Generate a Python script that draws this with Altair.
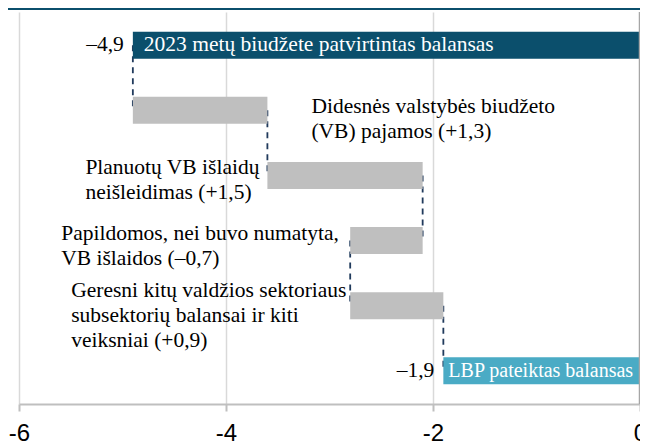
import altair as alt
import pandas as pd

# ---- data ----
row_idx = [0, 1, 2, 3, 4, 5]
kinds = ["total", "change", "change", "change", "change", "result"]
start_total = -4.9
changes = [1.3, 1.5, -0.7, 0.9]
final_total = -1.9
bar_texts = ["2023 metų biudžete patvirtintas balansas", "LBP pateiktas balansas"]
notes = [
    "Didesnės valstybės biudžeto\n(VB) pajamos (+1,3)",
    "Planuotų VB išlaidų\nneišleidimas (+1,5)",
    "Papildomos, nei buvo numatyta,\nVB išlaidos (–0,7)",
    "Geresni kitų valdžios sektoriaus\nsubsektorių balansai ir kiti\nveiksniai (+0,9)",
]
x_ticks = [-6, -4, -2, 0]

# ---- derived tables ----
levels = [start_total]
for c in changes:
    levels.append(round(levels[-1] + c, 2))
bx, bx2 = [start_total], [0]
for i, c in enumerate(changes):
    bx.append(levels[i])
    bx2.append(levels[i + 1])
bx.append(final_total)
bx2.append(0)
bars = pd.DataFrame({"row": row_idx, "x": bx, "x2": bx2, "kind": kinds})

conn = pd.DataFrame({
    "x": levels,
    "r_from": row_idx[:-1],
    "r_to": row_idx[1:],
})

def fmt(v):
    return ("–" if v < 0 else "") + f"{abs(v):.1f}".replace(".", ",")

W, H = 621, 392
yscale = alt.Scale(domain=[-0.51, 5.51], reverse=True, nice=False, zero=False, padding=0)
xscale = alt.Scale(domain=[-6, 0], nice=False, zero=False, padding=0)
color_scale = alt.Scale(domain=["total", "change", "result"],
                        range=["#0b4f6c", "#bfbfbf", "#4aabc5"])
x_axis = alt.Axis(
    values=x_ticks, title=None, grid=True, gridColor="#d9d9d9", gridWidth=1.5,
    domainColor="#bfbfbf", domainWidth=2, tickColor="#bfbfbf", tickWidth=2,
    tickSize=7, labelFont="Liberation Sans", labelFontSize=24, labelColor="#000000",
    labelPadding=10, labelFlush=False, labelOverlap=False,
    labelExpr="datum.value == 0 ? '0' : '-' + abs(datum.value)")


def X(field):
    return alt.X(field, scale=xscale, axis=x_axis)


def Y(field):
    return alt.Y(field, scale=yscale, axis=None)


bar_layer = alt.Chart(bars).mark_bar(size=27, orient="horizontal").encode(
    x=X("x:Q"),
    x2="x2:Q",
    y=Y("row:Q"),
    color=alt.Color("kind:N", scale=color_scale, legend=None),
)

conn_layer = alt.Chart(conn).mark_rule(
    color="#203a5c", strokeWidth=1.8, strokeDash=[6, 5]
).encode(
    x=X("x:Q"),
    y=Y("r_from:Q"),
    y2="r_to:Q",
)

zero_df = pd.DataFrame({"z": [x_ticks[-1]]})
zero_rule = alt.Chart(zero_df).mark_rule(color="#a6a6a6", strokeWidth=2.5).encode(
    x=X("z:Q")
)

top_band = alt.Chart(zero_df).mark_rule(color="#0b4f6c", strokeWidth=4).encode(
    x=alt.value(-12), x2=alt.value(630), y=alt.value(-4)
)

FS = 21.5
FONT = "Liberation Serif"

tot = pd.DataFrame({
    "row": [row_idx[0], row_idx[-1]],
    "x": [start_total, final_total],
    "val": [fmt(start_total), fmt(final_total)],
    "name": bar_texts,
})
val_text = alt.Chart(tot).mark_text(
    align="right", baseline="middle", dx=-9, font=FONT, fontSize=FS, color="#000000"
).encode(x=X("x:Q"), y=Y("row:Q"), text="val:N")

in_text0 = alt.Chart(tot.iloc[[0]]).mark_text(
    align="left", baseline="middle", dx=11, font=FONT, fontSize=FS, color="#ffffff"
).encode(x=X("x:Q"), y=Y("row:Q"), text="name:N")
in_text1 = alt.Chart(tot.iloc[[1]]).mark_text(
    align="left", baseline="middle", dx=5, font=FONT, fontSize=20, color="#ffffff"
).encode(x=X("x:Q"), y=Y("row:Q"), text="name:N")

note_df = pd.DataFrame({
    "row": row_idx[1:5],
    "x": [levels[1], levels[1], levels[3], levels[3]],
    "note": notes,
})
offsets = [(44, 3), (-182, -1), (-289, -1), (-279, -9)]
note_layers = []
for i, (dx, dy) in enumerate(offsets):
    note_layers.append(
        alt.Chart(note_df.iloc[[i]]).mark_text(
            align="left", baseline="alphabetic", dx=dx, dy=dy, lineBreak="\n",
            lineHeight=25, font=FONT, fontSize=FS, color="#000000"
        ).encode(x=X("x:Q"), y=Y("row:Q"), text="note:N")
    )

chart = alt.layer(
    conn_layer, bar_layer, zero_rule, val_text, in_text0, in_text1, *note_layers, top_band
).properties(
    width=W, height=H,
    autosize=alt.AutoSizeParams(type="none"),
    padding={"left": 11, "top": 4, "right": 0, "bottom": 41},
).configure_view(stroke=None)

chart.save("out.html", embed_options={"renderer": "svg", "actions": False})
